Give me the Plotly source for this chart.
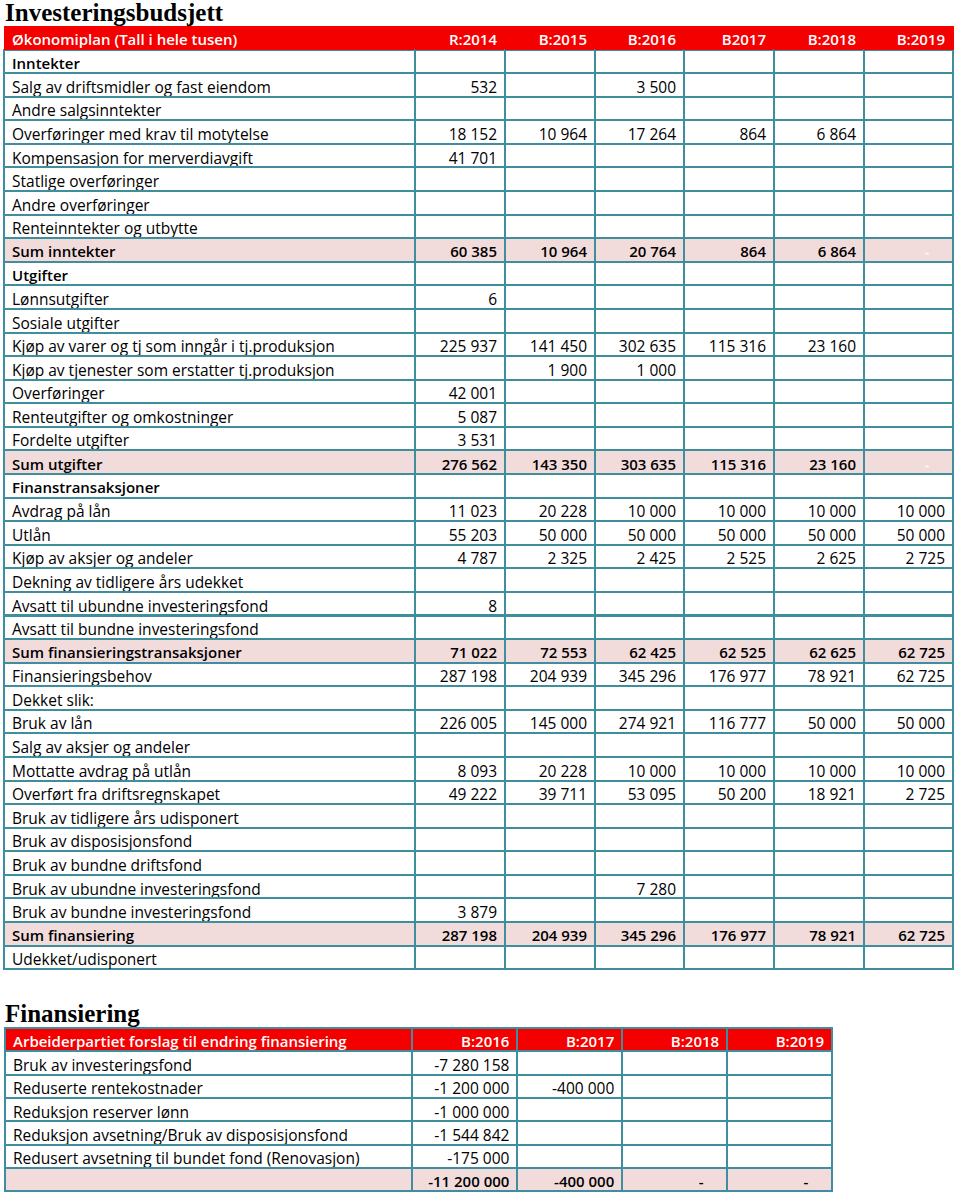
import plotly.graph_objects as go

W, H = 960, 1197

# ---------------- Data: Investeringsbudsjett ----------------
header1_label = "Økonomiplan (Tall i hele tusen)"
years1 = ["R:2014", "B:2015", "B:2016", "B2017", "B:2018", "B:2019"]

labels1 = [
    "Inntekter",
    "Salg av driftsmidler og fast eiendom",
    "Andre salgsinntekter",
    "Overføringer med krav til motytelse",
    "Kompensasjon for merverdiavgift",
    "Statlige overføringer",
    "Andre overføringer",
    "Renteinntekter og utbytte",
    "Sum inntekter",
    "Utgifter",
    "Lønnsutgifter",
    "Sosiale utgifter",
    "Kjøp av varer og tj som inngår i tj.produksjon",
    "Kjøp av tjenester som erstatter tj.produksjon",
    "Overføringer",
    "Renteutgifter og omkostninger",
    "Fordelte utgifter",
    "Sum utgifter",
    "Finanstransaksjoner",
    "Avdrag på lån",
    "Utlån",
    "Kjøp av aksjer og andeler",
    "Dekning av tidligere års udekket",
    "Avsatt til ubundne investeringsfond",
    "Avsatt til bundne investeringsfond",
    "Sum finansieringstransaksjoner",
    "Finansieringsbehov",
    "Dekket slik:",
    "Bruk av lån",
    "Salg av aksjer og andeler",
    "Mottatte avdrag på utlån",
    "Overført fra driftsregnskapet",
    "Bruk av tidligere års udisponert",
    "Bruk av disposisjonsfond",
    "Bruk av bundne driftsfond",
    "Bruk av ubundne investeringsfond",
    "Bruk av bundne investeringsfond",
    "Sum finansiering",
    "Udekket/udisponert",
]

N = None
r2014 = [N, 532, N, 18152, 41701, N, N, N, 60385, N, 6, N, 225937, N, 42001, 5087, 3531, 276562,
         N, 11023, 55203, 4787, N, 8, N, 71022, 287198, N, 226005, N, 8093, 49222, N, N, N, N, 3879, 287198, N]
b2015 = [N, N, N, 10964, N, N, N, N, 10964, N, N, N, 141450, 1900, N, N, N, 143350,
         N, 20228, 50000, 2325, N, N, N, 72553, 204939, N, 145000, N, 20228, 39711, N, N, N, N, N, 204939, N]
b2016 = [N, 3500, N, 17264, N, N, N, N, 20764, N, N, N, 302635, 1000, N, N, N, 303635,
         N, 10000, 50000, 2425, N, N, N, 62425, 345296, N, 274921, N, 10000, 53095, N, N, N, 7280, N, 345296, N]
b2017 = [N, N, N, 864, N, N, N, N, 864, N, N, N, 115316, N, N, N, N, 115316,
         N, 10000, 50000, 2525, N, N, N, 62525, 176977, N, 116777, N, 10000, 50200, N, N, N, N, N, 176977, N]
b2018 = [N, N, N, 6864, N, N, N, N, 6864, N, N, N, 23160, N, N, N, N, 23160,
         N, 10000, 50000, 2625, N, N, N, 62625, 78921, N, 50000, N, 10000, 18921, N, N, N, N, N, 78921, N]
b2019 = [N, N, N, N, N, N, N, N, 0, N, N, N, N, N, N, N, N, 0,
         N, 10000, 50000, 2725, N, N, N, 62725, 62725, N, 50000, N, 10000, 2725, N, N, N, N, N, 62725, N]

bold_rows1 = {"Inntekter", "Sum inntekter", "Utgifter", "Sum utgifter", "Finanstransaksjoner",
              "Sum finansieringstransaksjoner", "Sum finansiering"}
sum_rows1 = {"Sum inntekter", "Sum utgifter", "Sum finansieringstransaksjoner", "Sum finansiering"}

# ---------------- Data: Finansiering ----------------
header2_label = "Arbeiderpartiet forslag til endring finansiering"
years2 = ["B:2016", "B:2017", "B:2018", "B:2019"]
labels2 = [
    "Bruk av investeringsfond",
    "Reduserte rentekostnader",
    "Reduksjon reserver lønn",
    "Reduksjon avsetning/Bruk av disposisjonsfond",
    "Redusert avsetning til bundet fond (Renovasjon)",
    "",
]
f2016 = [-7280158, -1200000, -1000000, -1544842, -175000, -11200000]
f2017 = [N, -400000, N, N, N, -400000]
f2018 = [N, N, N, N, N, 0]
f2019 = [N, N, N, N, N, 0]
sum_rows2 = {5}

# ---------------- Styling ----------------
RED = "#F50000"
TEAL = "#3E8E9E"
PINK = "#F2DCDB"
FONT = "Open Sans"
FS = 15.5        # regular cell text
FS_B = 15        # bold cell text
WB = 600         # weight used for the bold rows


def fmt(v):
    if v is None:
        return ""
    if v == 0:
        return "-" + "\u00a0" * 4
    s = f"{abs(v):,}".replace(",", " ")
    return ("-" if v < 0 else "") + s


def px_domain_y(top, bottom):
    return [1 - bottom / H, 1 - top / H]


fig = go.Figure()
cell_fonts = []  # per-trace 2-D (weight, size) grids, column-major

# Table 1
cols1 = [labels1, r2014, b2015, b2016, b2017, b2018, b2019]
cell_vals1, fill1, color1, weight1, size1 = [], [], [], [], []
for ci, col in enumerate(cols1):
    vals, fills, colors, weights, sizes = [], [], [], [], []
    for ri, lab in enumerate(labels1):
        v = col[ri]
        b = lab in bold_rows1
        vals.append(v if ci == 0 else fmt(v))
        weights.append(WB if b else 400)
        sizes.append(FS_B if b else FS)
        fills.append(PINK if lab in sum_rows1 else "white")
        colors.append("#FAFAFA" if (ci == 6 and v == 0) else "black")
    cell_vals1.append(vals)
    fill1.append(fills)
    color1.append(colors)
    weight1.append(weights)
    size1.append(sizes)

edges1 = [4, 415, 505, 595, 684, 774, 864, 953]
widths1 = [edges1[i + 1] - edges1[i] for i in range(len(edges1) - 1)]
row_h1 = 23.58

fig.add_trace(go.Table(
    domain=dict(x=[edges1[0] / W, edges1[-1] / W], y=px_domain_y(26, 26 + row_h1 * 40 + 4)),
    columnwidth=widths1,
    header=dict(
        values=[header1_label] + years1,
        fill_color=RED,
        line=dict(color=RED, width=1),
        font=dict(family=FONT, size=FS_B, color="white", weight=WB),
        align=["left"] + ["right"] * 6,
        height=row_h1,
    ),
    cells=dict(
        values=cell_vals1,
        fill_color=fill1,
        line=dict(color=TEAL, width=2),
        font=dict(family=FONT, size=FS, color=color1, weight="normal"),
        align=["left"] + ["right"] * 6,
        height=row_h1,
    ),
))
cell_fonts.append((weight1, size1))

# Table 2
cols2 = [labels2, f2016, f2017, f2018, f2019]
cell_vals2, fill2, weight2, size2 = [], [], [], []
for ci, col in enumerate(cols2):
    vals, fills, weights, sizes = [], [], [], []
    for ri in range(len(labels2)):
        v = col[ri]
        b = ri in sum_rows2
        vals.append(v if ci == 0 else fmt(v))
        weights.append(WB if b else 400)
        sizes.append(FS_B if b else FS)
        fills.append(PINK if b else "white")
    cell_vals2.append(vals)
    fill2.append(fills)
    weight2.append(weights)
    size2.append(sizes)

edges2 = [5, 412, 518, 623, 728, 833]
widths2 = [edges2[i + 1] - edges2[i] for i in range(len(edges2) - 1)]
row_h2 = 23.3

fig.add_trace(go.Table(
    domain=dict(x=[edges2[0] / W, edges2[-1] / W], y=px_domain_y(1028, 1028 + row_h2 * 7 + 4)),
    columnwidth=widths2,
    header=dict(
        values=[header2_label] + years2,
        fill_color=RED,
        line=dict(color=TEAL, width=2),
        font=dict(family=FONT, size=FS_B, color="white", weight=WB),
        align=["left"] + ["right"] * 4,
        height=row_h2,
    ),
    cells=dict(
        values=cell_vals2,
        fill_color=fill2,
        line=dict(color=TEAL, width=2),
        font=dict(family=FONT, size=FS, color="black", weight="normal"),
        align=["left"] + ["right"] * 4,
        height=row_h2,
    ),
))
cell_fonts.append((weight2, size2))

# plotly.js accepts per-cell (2-D) font grids for table cells; the Python
# validator only knows 1-D, so place the grids directly in the trace data.
for tr_dict, (w, s) in zip(fig._data, cell_fonts):
    tr_dict["cells"]["font"]["weight"] = w
    tr_dict["cells"]["font"]["size"] = s

fig.update_layout(
    width=W, height=H,
    margin=dict(l=0, r=0, t=0, b=0),
    paper_bgcolor="white",
    plot_bgcolor="white",
    annotations=[
        dict(text="<b>Investeringsbudsjett</b>", x=3 / W, y=1 - 12.5 / H, xref="paper", yref="paper",
             xanchor="left", yanchor="middle", showarrow=False,
             font=dict(family="Liberation Serif", size=25, color="black")),
        dict(text="<b>Finansiering</b>", x=3 / W, y=1 - 1013 / H, xref="paper", yref="paper",
             xanchor="left", yanchor="middle", showarrow=False,
             font=dict(family="Liberation Serif", size=25, color="black")),
    ],
)

fig.write_html("out.html", config={"displayModeBar": False},
               post_script="document.body.style.margin='0px';")
